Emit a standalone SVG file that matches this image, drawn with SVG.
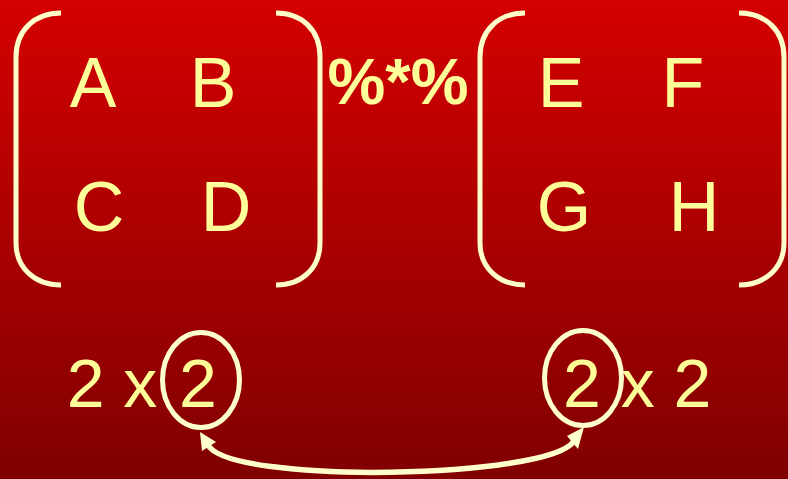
<svg xmlns="http://www.w3.org/2000/svg" width="788" height="479" viewBox="0 0 788 479">
<style>
.t{font-family:"Liberation Sans",Arial,sans-serif;fill:#ffff99;text-anchor:middle}
.m{font-size:70px}
.d{font-size:68px}
.br{fill:none;stroke:#ffffcc;stroke-width:5;stroke-linecap:butt}
.el{fill:none;stroke:#ffffcc;stroke-width:5}
.ar{fill:none;stroke:#ffffcc;stroke-width:5.5}
.ah{fill:#ffffcc;stroke:none}
</style>
<defs>
<linearGradient id="bg" x1="0" y1="0" x2="0" y2="1">
<stop offset="0" stop-color="#d40000"/>
<stop offset="1" stop-color="#800000"/>
</linearGradient>
</defs>
<rect width="788" height="479" fill="url(#bg)"/>
<g id="matrix1">
<path class="br" d="M61,13 C35,13 16,30 16,57 L16,243 C16,268 35,285 61,285"/>
<path class="br" d="M276,13 C302,13 320,30 320,57 L320,243 C320,268 302,285 276,285"/>
<text class="t m" x="93" y="107">A</text>
<text class="t m" x="213" y="107">B</text>
<text class="t m" x="99" y="231">C</text>
<text class="t m" x="226" y="231">D</text>
</g>
<g id="operator">
<text class="t" x="398" y="104" style="font-size:65px;font-weight:bold">%*%</text>
</g>
<g id="matrix2">
<path class="br" d="M525,13 C499,13 480,30 480,57 L480,243 C480,268 499,285 525,285"/>
<path class="br" d="M739,13 C765,13 784,30 784,57 L784,243 C784,268 765,285 739,285"/>
<text class="t m" x="561" y="107">E</text>
<text class="t m" x="683" y="107">F</text>
<text class="t m" x="564" y="231">G</text>
<text class="t m" x="694" y="231">H</text>
</g>
<g id="dims1">
<text class="t d" x="112" y="407">2 x</text>
<text class="t d" x="198" y="407">2</text>
<ellipse class="el" id="circle1" cx="201" cy="380" rx="38.5" ry="47.5"/>
</g>
<g id="dims2">
<text class="t d" x="582" y="407">2</text>
<text class="t d" x="666" y="407">x 2</text>
<ellipse class="el" id="circle2" cx="583" cy="378" rx="38.5" ry="47.5"/>
</g>
<g id="connectors">
<path class="ar" d="M208,445 C230,485 550,479 574,441"/>
<polygon class="ah" points="200,432 202,451 216,442"/>
<polygon class="ah" points="584,427 567,436 578,449"/>
</g>
</svg>
